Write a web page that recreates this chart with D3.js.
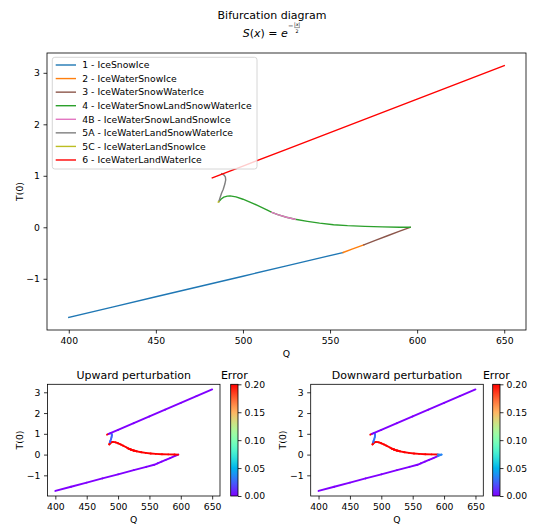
<!DOCTYPE html>
<html><head><meta charset="utf-8">
<script src="https://cdn.jsdelivr.net/npm/d3@7"></script>
<style>body{margin:0;background:#fff}text{font-family:"DejaVu Sans",sans-serif;fill:#000}</style>
</head><body>
<svg id="chart" width="536" height="524"></svg>
<script>
// ---------- DATA ----------
const xTicks = [400, 450, 500, 550, 600, 650];
const yTicks = [-1, 0, 1, 2, 3];
const errTicks = [0, 0.05, 0.10, 0.15, 0.20];
const branchNames = ["1 - IceSnowIce","2 - IceWaterSnowIce","3 - IceWaterSnowWaterIce","4 - IceWaterSnowLandSnowWaterIce","4B - IceWaterSnowLandSnowIce","5A - IceWaterLandSnowWaterIce","5C - IceWaterLandSnowIce","6 - IceWaterLandWaterIce"];
const branchColors = ["#1f77b4","#ff7f0e","#8c564b","#2ca02c","#e377c2","#7f7f7f","#bcbd22","#ff0000"];

const q1 = [400, 425, 450, 475, 500, 525, 545, 557.5];
const t1 = [-1.75, -1.55, -1.35, -1.15, -0.95, -0.75, -0.59, -0.49];
const q2 = [557.5, 563, 569.4];
const t2 = [-0.49, -0.42, -0.34];
const q3 = [569.4, 576, 583, 590, 596];
const t3 = [-0.34, -0.255, -0.165, -0.075, 0];
const q4 = [486.2, 487.5, 489, 491, 492.6, 496, 500, 504, 508, 513.7, 516.6, 520, 525, 530, 537, 544, 552, 560, 570, 580, 590, 596];
const t4 = [0.50, 0.55, 0.585, 0.605, 0.61, 0.59, 0.545, 0.49, 0.43, 0.34, 0.29, 0.245, 0.195, 0.155, 0.115, 0.08, 0.05, 0.032, 0.018, 0.008, 0.002, 0];
const q4B = [516.6, 520, 525, 530];
const t4B = [0.29, 0.245, 0.195, 0.155];
const q5A = [486.2, 486.9, 487.7, 488.7, 489.6, 490.1, 489.9, 489.0, 487.8];
const t5A = [0.50, 0.58, 0.66, 0.74, 0.84, 0.92, 0.98, 1.02, 1.04];
const q5C = [485.8, 486.2];
const t5C = [0.49, 0.50];
const q6 = [482.4, 485, 500, 525, 550, 575, 600, 625, 650];
const t6 = [0.96, 0.994, 1.189, 1.514, 1.839, 2.164, 2.489, 2.815, 3.14];

// errors (upward perturbation), one per point
const up1 = [0,0,0,0,0,0,0,0];
const up2 = [0,0,0];
const up3 = [0,0,0,0,0];
const up4 = [0.2,0.2,0.2,0.2,0.2,0.2,0.2,0.2,0.2,0.2,0.2,0.2,0.2,0.2,0.2,0.2,0.2,0.2,0.2,0.2,0.2,0.2];
const up4B = [0.2,0.2,0.2,0.2];
const up5A = [0.2,0.025,0.025,0.025,0.025,0.025,0.025,0.025,0.025];
const up5C = [0.2,0.2];
const up6 = [0.2,0,0,0,0,0,0,0,0];
// errors (downward perturbation)
const dn1 = [0,0,0,0,0,0,0,0];
const dn2 = [0,0,0];
const dn3 = [0,0,0,0.035,0.035];
const dn4 = [0.2,0.2,0.2,0.2,0.2,0.2,0.2,0.2,0.2,0.2,0.2,0.2,0.2,0.2,0.2,0.2,0.2,0.2,0.2,0.2,0.035,0.035];
const dn4B = [0.2,0.2,0.2,0.2];
const dn5A = [0.2,0.03,0.03,0.03,0.03,0.03,0.03,0.03,0.03];
const dn5C = [0.2,0.2];
const dn6 = [0.2,0,0,0,0,0,0,0,0];

// ---------- DRAW ----------
const Qs = [q1,q2,q3,q4,q4B,q5A,q5C,q6];
const Ts = [t1,t2,t3,t4,t4B,t5A,t5C,t6];
const ups = [up1,up2,up3,up4,up4B,up5A,up5C,up6];
const dns = [dn1,dn2,dn3,dn4,dn4B,dn5A,dn5C,dn6];

const svg = d3.select("#chart");
svg.append("rect").attr("width",536).attr("height",524).attr("fill","#fff");
const FS = 9.25;
const xDom = [387.5, 662.5], yDom = [-1.995, 3.385];

function rainbow(v){ // matplotlib 'rainbow'
  const c = x => Math.max(0, Math.min(1, x));
  const r = c(Math.abs(2*v - 0.5)), g = c(Math.sin(Math.PI*v)), b = c(Math.cos(Math.PI*v/2));
  return d3.rgb(r*255, g*255, b*255).formatHex();
}

function makeAxes(x0,x1,y0,y1){
  const x = d3.scaleLinear().domain(xDom).range([x0,x1]);
  const y = d3.scaleLinear().domain(yDom).range([y1,y0]);
  const g = svg.append("g");
  const gx = g.append("g").attr("transform",`translate(0,${y1})`)
    .call(d3.axisBottom(x).tickValues(xTicks).tickSize(3.5).tickPadding(3.5).tickFormat(d3.format("d")));
  const gy = g.append("g").attr("transform",`translate(${x0},0)`)
    .call(d3.axisLeft(y).tickValues(yTicks).tickSize(3.5).tickPadding(3.5).tickFormat(d3.format("d")));
  [gx,gy].forEach(a=>{a.select(".domain").remove();a.selectAll("text").attr("font-size",FS).attr("font-family","DejaVu Sans");a.selectAll("line").attr("stroke","#000").attr("stroke-width",0.8);});
  return {x,y,g,x0,x1,y0,y1};
}
function frame(ax){
  ax.g.append("rect").attr("x",ax.x0).attr("y",ax.y0).attr("width",ax.x1-ax.x0).attr("height",ax.y1-ax.y0)
    .attr("fill","none").attr("stroke","#000").attr("stroke-width",0.8);
}

// Titles
svg.append("text").attr("x",272).attr("y",19).attr("text-anchor","middle").attr("font-size",11).text("Bifurcation diagram");
const f = svg.append("text").attr("x",242.7).attr("y",37).attr("font-size",11);
f.append("tspan").attr("font-style","italic").text("S");
f.append("tspan").text("(");
f.append("tspan").attr("font-style","italic").text("x");
f.append("tspan").text(") = ");
f.append("tspan").attr("font-style","italic").text("e");
const fw = f.node().getComputedTextLength();
const ex = 242.7 + fw + 0.3;
svg.append("text").attr("x",ex).attr("y",27.5).attr("font-size",6.5).text("\u2212");
const fx = ex + 9;
const num = svg.append("text").attr("x",fx).attr("y",26.3).attr("font-size",4.8).attr("text-anchor","middle");
num.append("tspan").text("|"); num.append("tspan").attr("font-style","italic").text("x"); num.append("tspan").text("|");
svg.append("line").attr("x1",fx-2.8).attr("x2",fx+2.8).attr("y1",27.6).attr("y2",27.6).attr("stroke","#000").attr("stroke-width",0.4);
svg.append("text").attr("x",fx).attr("y",32.8).attr("font-size",4.8).attr("text-anchor","middle").text("2");

// Main plot
const main = makeAxes(47, 526, 53, 330);
const line = (ax) => d3.line().x(d=>ax.x(d[0])).y(d=>ax.y(d[1]));
Qs.forEach((q,i)=>{
  const pts = q.map((v,j)=>[v,Ts[i][j]]);
  main.g.append("path").attr("d",line(main)(pts)).attr("fill","none")
    .attr("stroke",branchColors[i]).attr("stroke-width",1.4).attr("stroke-linejoin","round").attr("stroke-linecap","square");
});
frame(main);
main.g.append("text").attr("x",(47+526)/2).attr("y",357).attr("text-anchor","middle").attr("font-size",FS).text("Q");
main.g.append("text").attr("transform",`translate(22.5,191.5) rotate(-90)`).attr("text-anchor","middle").attr("font-size",FS).text("T(0)");

// Legend
const lg = main.g.append("g");
lg.append("rect").attr("x",52.3).attr("y",57.3).attr("width",204.7).attr("height",111.7).attr("rx",2.5)
  .attr("fill","#fff").attr("fill-opacity",0.8).attr("stroke","#cccccc").attr("stroke-width",0.8);
branchNames.forEach((n,i)=>{
  const yy = 65 + i*13.57;
  lg.append("line").attr("x1",55.7).attr("x2",76).attr("y1",yy).attr("y2",yy).attr("stroke",branchColors[i]).attr("stroke-width",1.4);
  lg.append("text").attr("x",82.3).attr("y",yy+3.3).attr("font-size",FS).text(n);
});

// Bottom subplots
const defs = svg.append("defs");
const grad = defs.append("linearGradient").attr("id","rb").attr("x1",0).attr("x2",0).attr("y1",1).attr("y2",0);
d3.range(0,1.0001,0.05).forEach(v=>grad.append("stop").attr("offset",v).attr("stop-color",rainbow(v)));

function bottom(x0,x1,cbx,title,errs,ylx){
  const ax = makeAxes(x0,x1,384.3,496);
  const cs = d3.scaleLinear().domain([0,0.2]).range([0,1]).clamp(true);
  Qs.forEach((q,i)=>{
    for(let j=0;j<q.length-1;j++){
      ax.g.append("line").attr("x1",ax.x(q[j])).attr("y1",ax.y(Ts[i][j]))
        .attr("x2",ax.x(q[j+1])).attr("y2",ax.y(Ts[i][j+1]))
        .attr("stroke",rainbow(cs(errs[i][j]))).attr("stroke-width",1.9).attr("stroke-linecap","round");
    }
  });
  frame(ax);
  ax.g.append("text").attr("x",(x0+x1)/2).attr("y",379).attr("text-anchor","middle").attr("font-size",11).text(title);
  ax.g.append("text").attr("x",(x0+x1)/2).attr("y",522.5).attr("text-anchor","middle").attr("font-size",FS).text("Q");
  ax.g.append("text").attr("transform",`translate(${ylx},440) rotate(-90)`).attr("text-anchor","middle").attr("font-size",FS).text("T(0)");
  // colorbar
  const cy = d3.scaleLinear().domain([0,0.2]).range([496,384.3]);
  const cb = svg.append("g");
  cb.append("rect").attr("x",cbx).attr("y",384.3).attr("width",7.3).attr("height",111.7).attr("fill","url(#rb)").attr("stroke","#000").attr("stroke-width",0.8);
  const ga = cb.append("g").attr("transform",`translate(${cbx+7.3},0)`)
    .call(d3.axisRight(cy).tickValues(errTicks).tickSize(3.5).tickPadding(3).tickFormat(d3.format(".2f")));
  ga.select(".domain").remove();
  ga.selectAll("text").attr("font-size",FS).attr("font-family","DejaVu Sans");
  ga.selectAll("line").attr("stroke","#000").attr("stroke-width",0.8);
  cb.append("text").attr("x",cbx+3.6).attr("y",379).attr("text-anchor","middle").attr("font-size",11).text("Error");
}
bottom(47.5, 220, 230.7, "Upward perturbation", ups, 22.5);
bottom(310.7, 483.3, 492.7, "Downward perturbation", dns, 286);
</script>
</body></html>
